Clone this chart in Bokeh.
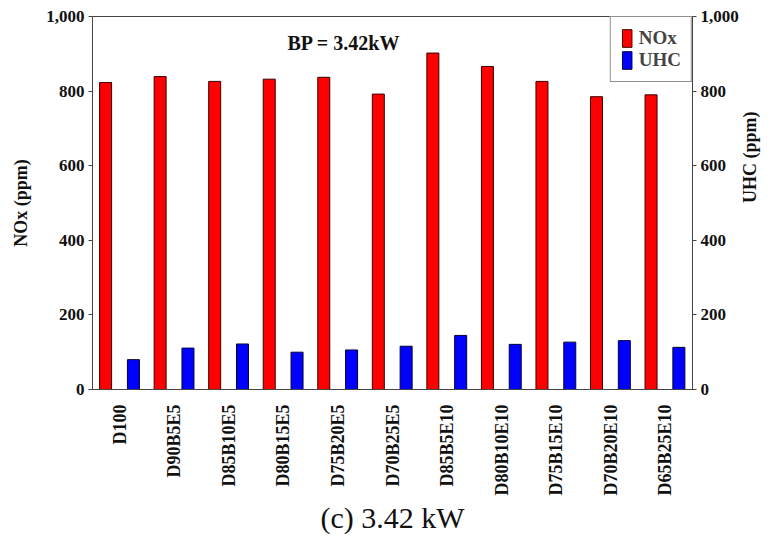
from bokeh.plotting import figure
from bokeh.models import (ColumnDataSource, Range1d, LinearAxis, Legend, LegendItem,
                          Label, Title, NumeralTickFormatter, FactorRange)
from bokeh.transform import dodge
from bokeh.embed import file_html
from bokeh.resources import INLINE
import math

categories = ["D100", "D90B5E5", "D85B10E5", "D80B15E5", "D75B20E5", "D70B25E5",
              "D85B5E10", "D80B10E10", "D75B15E10", "D70B20E10", "D65B25E10"]
nox = [823, 839, 826, 832, 837, 792, 902, 866, 826, 785, 790]
uhc = [80, 111, 122, 100, 106, 116, 145, 121, 127, 131, 113]

FONT = "Liberation Serif"

src = ColumnDataSource(dict(cat=categories, nox=nox, uhc=uhc))

p = figure(x_range=FactorRange(*categories), y_range=Range1d(0, 1000),
           frame_width=600, frame_height=373,
           min_border_left=92, min_border_right=76, min_border_top=16, min_border_bottom=147,
           output_backend="svg", toolbar_location=None)
p.extra_y_ranges = {"uhc": Range1d(0, 1000)}

r_nox = p.vbar(x=dodge("cat", -0.26, range=p.x_range), top="nox", width=0.22, source=src,
               fill_color="#ff0000", line_color="#3a0000", line_width=1)
r_uhc = p.vbar(x=dodge("cat", 0.25, range=p.x_range), top="uhc", width=0.22, source=src,
               y_range_name="uhc", fill_color="#0000ff", line_color="#00003a", line_width=1)

p.xgrid.visible = False
p.ygrid.visible = False
p.outline_line_color = "#444444"
p.outline_line_width = 1
p.background_fill_color = "white"
p.border_fill_color = "white"

ya = p.yaxis[0]
ya.axis_label = "NOx (ppm)"
ya.formatter = NumeralTickFormatter(format="0,0")
right = LinearAxis(y_range_name="uhc", axis_label="UHC (ppm)",
                   formatter=NumeralTickFormatter(format="0,0"))
p.add_layout(right, "right")
for ax in (ya, right):
    ax.ticker.desired_num_ticks = 6
    ax.major_label_text_font = FONT
    ax.major_label_text_font_style = "bold"
    ax.major_label_text_font_size = "17px"
    ax.major_label_text_color = "#111111"
    ax.axis_label_text_font = FONT
    ax.axis_label_text_font_style = "bold"
    ax.axis_label_text_font_size = "18px"
    ax.axis_label_text_color = "#111111"
    ax.major_tick_out = 4
    ax.major_tick_in = 0
    ax.minor_tick_out = 0
    ax.minor_tick_in = 0
    ax.axis_line_color = "#444444"
    ax.major_tick_line_color = "#444444"
    ax.major_label_standoff = 4
ya.axis_label_standoff = 12
right.axis_label_standoff = 8
right.axis_label_orientation = math.pi / 2

xa = p.xaxis[0]
xa.major_label_orientation = math.pi / 2
xa.major_label_text_font = FONT
xa.major_label_text_font_style = "bold"
xa.major_label_text_font_size = "18px"
xa.major_label_text_color = "#111111"
xa.major_tick_line_color = None
xa.axis_line_color = "#444444"
xa.major_label_standoff = 9

legend = Legend(items=[LegendItem(label="NOx", renderers=[r_nox]),
                       LegendItem(label="UHC", renderers=[r_uhc])],
                location="top_right", margin=0, padding=10, spacing=0,
                glyph_width=12, glyph_height=22,
                label_text_font=FONT, label_text_font_style="bold",
                label_text_font_size="19px", label_standoff=6,
                border_line_color="#222222", border_line_width=1,
                background_fill_alpha=1.0)
p.add_layout(legend, "center")

title_cat = categories.index("D75B20E5") + 0.5
p.add_layout(Label(x=title_cat, y=930, text="BP = 3.42kW", x_offset=6,
                   text_align="center", text_baseline="middle",
                   text_font=FONT, text_font_style="bold", text_font_size="20px",
                   text_color="#111111"))

p.add_layout(Title(text="(c) 3.42 kW", align="center", text_font=FONT,
                   text_font_style="normal", text_font_size="30px", offset=0,
                   standoff=0, text_color="#111111"), "below")

open("out.html", "w").write(file_html(p, INLINE))
